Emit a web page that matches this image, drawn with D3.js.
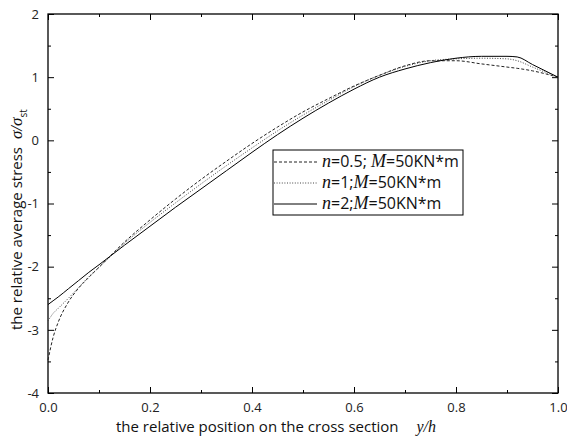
<!doctype html>
<html lang="en">
<head>
<meta charset="utf-8">
<title>relative average stress</title>
<script src="https://cdn.jsdelivr.net/npm/d3@7"></script>
<style>
	body { margin: 0; background: #fff; }
	svg { display: block; font-family: "Open Sans", sans-serif; }
</style>
</head>
<body>
<svg id="chart" width="567" height="438"></svg>
<script>
// positions along the cross section y/h
var xs = [0, 0.01, 0.02, 0.04, 0.06, 0.08, 0.1, 0.15, 0.2, 0.25, 0.3, 0.35, 0.4, 0.45, 0.5, 0.55, 0.6, 0.65, 0.7, 0.75, 0.8, 0.85, 0.9, 0.92, 0.95, 1.0];
// relative average stress for each n
var n05 = [-3.48, -3.12, -2.88, -2.56, -2.34, -2.17, -2.01, -1.61, -1.26, -0.93, -0.62, -0.33, -0.05, 0.21, 0.45, 0.66, 0.86, 1.03, 1.18, 1.26, 1.26, 1.21, 1.16, 1.14, 1.10, 1.00];
var n1  = [-2.86, -2.74, -2.66, -2.50, -2.33, -2.16, -2.01, -1.63, -1.30, -0.99, -0.69, -0.40, -0.12, 0.15, 0.40, 0.63, 0.85, 1.03, 1.17, 1.26, 1.29, 1.30, 1.29, 1.26, 1.16, 1.00];
var n2  = [-2.60, -2.54, -2.48, -2.35, -2.22, -2.09, -1.97, -1.66, -1.36, -1.06, -0.77, -0.48, -0.19, 0.09, 0.35, 0.59, 0.81, 1.00, 1.13, 1.23, 1.30, 1.33, 1.33, 1.32, 1.20, 1.00];

var xTicks = [0, 0.2, 0.4, 0.6, 0.8, 1.0];
var xMinor = [0.1, 0.3, 0.5, 0.7, 0.9];
var yTicks = [-4, -3, -2, -1, 0, 1, 2];
var yMinor = [-3.5, -2.5, -1.5, -0.5, 0.5, 1.5];

var legendN = ["0.5", "1", "2"];
var legendSep = ["; ", ";", ";"];

var svg = d3.select("#chart");
var pLeft = 48, pRight = 558, pTop = 14, pBottom = 393;

var xScale = d3.scaleLinear().domain([0, 1]).range([pLeft, pRight]);
var yScale = d3.scaleLinear().domain([-4, 2]).range([pBottom, pTop]);

// axes - ticks inward on all four sides
function drawAxis(axis, tx, ty, labels) {
	var g = svg.append("g").attr("transform", "translate(" + tx + "," + ty + ")").call(axis);
	g.select(".domain").remove();
	g.selectAll("line").attr("stroke", "#000").attr("stroke-width", 1);
	if (!labels) g.selectAll("text").remove();
	else g.selectAll("text").attr("fill", "#222").style("font-size", "13px").style("font-family", "Open Sans, sans-serif");
	return g;
}
drawAxis(d3.axisBottom(xScale).tickValues(xTicks).tickSize(-6).tickPadding(10).tickFormat(d3.format(".1f")), 0, pBottom, true);
drawAxis(d3.axisBottom(xScale).tickValues(xMinor).tickSize(-3), 0, pBottom, false);
drawAxis(d3.axisTop(xScale).tickValues(xTicks).tickSize(-6), 0, pTop, false);
drawAxis(d3.axisTop(xScale).tickValues(xMinor).tickSize(-3), 0, pTop, false);
drawAxis(d3.axisLeft(yScale).tickValues(yTicks).tickSize(-6).tickPadding(9).tickFormat(function(d) { return String(d); }), pLeft, 0, true);
drawAxis(d3.axisLeft(yScale).tickValues(yMinor).tickSize(-3), pLeft, 0, false);
drawAxis(d3.axisRight(yScale).tickValues(yTicks).tickSize(-6), pRight, 0, false);
drawAxis(d3.axisRight(yScale).tickValues(yMinor).tickSize(-3), pRight, 0, false);

svg.append("rect")
	.attr("x", pLeft).attr("y", pTop)
	.attr("width", pRight - pLeft).attr("height", pBottom - pTop)
	.attr("fill", "none").attr("stroke", "#000").attr("stroke-width", 1.3);

// curves
var line = d3.line().curve(d3.curveMonotoneX)
	.x(function(d) { return xScale(d[0]); })
	.y(function(d) { return yScale(d[1]); });

var series = [
	{ vals: n05, dash: "3,2", color: "#222" },
	{ vals: n1, dash: "1,1.6", color: "#444" },
	{ vals: n2, dash: null, color: "#000" }
];

series.forEach(function(s) {
	svg.append("path")
		.attr("d", line(xs.map(function(x, i) { return [x, s.vals[i]]; })))
		.attr("fill", "none")
		.attr("stroke", s.color)
		.attr("stroke-width", 1)
		.attr("stroke-dasharray", s.dash);
});

// legend
var lg = svg.append("g").attr("transform", "translate(273,150)");
lg.append("rect").attr("width", 190).attr("height", 65)
	.attr("fill", "#fff").attr("stroke", "#000").attr("stroke-width", 1);
series.forEach(function(s, i) {
	var y = 12 + i * 21;
	lg.append("line").attr("x1", 1).attr("x2", 44).attr("y1", y).attr("y2", y)
		.attr("stroke", s.color).attr("stroke-width", 1).attr("stroke-dasharray", s.dash);
	var t = lg.append("text").attr("x", 49).attr("y", y + 5).style("font-size", "16px").attr("fill", "#111");
	t.append("tspan").style("font-family", "Liberation Serif, serif").style("font-style", "italic").style("font-size", "18px").text("n");
	t.append("tspan").text("=" + legendN[i] + legendSep[i]);
	t.append("tspan").style("font-family", "Liberation Serif, serif").style("font-style", "italic").style("font-size", "18px").text("M");
	t.append("tspan").text("=50KN*m");
});

// axis titles
var xt = svg.append("text").attr("x", 116).attr("y", 432).style("font-size", "15px").attr("fill", "#111");
xt.append("tspan").text("the relative position on the cross section");
xt.append("tspan").attr("dx", 18).style("font-family", "Liberation Serif, serif").style("font-style", "italic").style("font-size", "16px").text("y/h");

var yt = svg.append("text").attr("transform", "translate(22,330) rotate(-90)").style("font-size", "15px").attr("fill", "#111");
yt.append("tspan").text("the relative average stress ");
yt.append("tspan").attr("dx", 4).style("font-family", "Liberation Serif, serif").style("font-style", "italic").style("font-size", "17px").text("σ/σ");
yt.append("tspan").attr("dy", 5).style("font-size", "10px").text("st");
</script>
</body>
</html>
